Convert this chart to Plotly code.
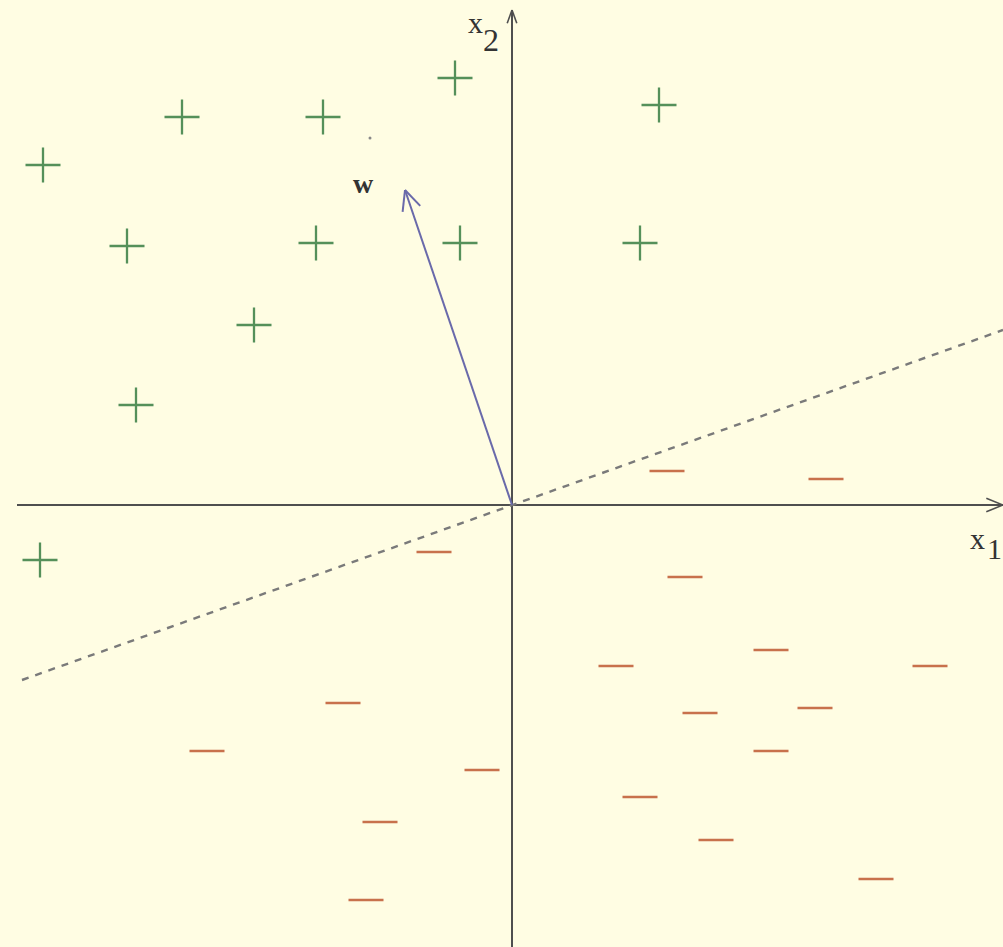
import math
import plotly.graph_objects as go

# Data (units: pixels relative to origin, y up)
plus_x = [-469, -330, -189, -57, 147, -385, -196, -52, 128, -258, -376, -472]
plus_y = [340, 388, 388, 427, 400, 259, 262, 262, 262, 180, 100, -55]

minus_x = [155, 314, -78, 173, 104, 259, 418, -169, 188, 303, -305, 259, -30, 128, -132, 204, 364, -146]
minus_y = [34, 26, -47, -72, -161, -145, -161, -198, -208, -203, -246, -246, -265, -292, -317, -335, -374, -395]

w_vec = [-107, 315]
boundary_x = [-490, 491]
boundary_y = [-175, 175]

x_range = [-512, 491]
y_range = [-442, 505]
h_axis = [-495, 491]
v_axis = [-442, 495]

BG = "#FFFDE3"
AXIS = "#4f4f4f"
GREEN = "#55905a"
ORANGE = "#c8714c"
BLUE = "#6a6aaa"
GRAY = "#7a7a7a"


def chevron(tip, direction, length, angle_deg):
    dx, dy = direction
    n = math.hypot(dx, dy)
    ux, uy = -dx / n, -dy / n
    xs, ys = [], []
    for s in (1, -1):
        a = math.radians(angle_deg) * s
        rx = ux * math.cos(a) - uy * math.sin(a)
        ry = ux * math.sin(a) + uy * math.cos(a)
        xs += [tip[0] + rx * length, tip[0], None]
        ys += [tip[1] + ry * length, tip[1], None]
    return xs, ys


fig = go.Figure()

# axes
fig.add_trace(go.Scatter(x=h_axis, y=[0, 0], mode="lines", line=dict(color=AXIS, width=2), hoverinfo="skip"))
fig.add_trace(go.Scatter(x=[0, 0], y=v_axis, mode="lines", line=dict(color=AXIS, width=2), hoverinfo="skip"))
hx, hy = chevron((h_axis[1], 0), (1, 0), 18, 22)
fig.add_trace(go.Scatter(x=hx, y=hy, mode="lines", line=dict(color=AXIS, width=1.6), hoverinfo="skip"))
vx, vy = chevron((0, v_axis[1]), (0, 1), 14, 20)
fig.add_trace(go.Scatter(x=vx, y=vy, mode="lines", line=dict(color=AXIS, width=1.6), hoverinfo="skip"))

# decision boundary
fig.add_trace(go.Scatter(x=boundary_x, y=boundary_y, mode="lines",
                         line=dict(color=GRAY, width=2.4, dash="7px,7px"), hoverinfo="skip"))

# w vector
fig.add_trace(go.Scatter(x=[0, w_vec[0]], y=[0, w_vec[1]], mode="lines",
                         line=dict(color=BLUE, width=2), hoverinfo="skip"))
wx, wy = chevron((w_vec[0], w_vec[1]), (w_vec[0], w_vec[1]), 22, 25)
fig.add_trace(go.Scatter(x=wx, y=wy, mode="lines", line=dict(color=BLUE, width=2), hoverinfo="skip"))

# points
fig.add_trace(go.Scatter(x=plus_x, y=plus_y, mode="markers",
                         marker=dict(symbol="cross-thin", size=25, line=dict(color=GREEN, width=2.3))))
fig.add_trace(go.Scatter(x=minus_x, y=minus_y, mode="markers",
                         marker=dict(symbol="line-ew", size=25, line=dict(color=ORANGE, width=2.5))))
fig.add_trace(go.Scatter(x=[-142], y=[367], mode="markers",
                         marker=dict(symbol="circle", size=3, color="#888888")))

serif = "Liberation Serif"
ann = [
    dict(x=-37, y=483, text="x", size=30),
    dict(x=-21, y=465, text="2", size=32),
    dict(x=465, y=-33, text="x", size=30),
    dict(x=482, y=-43, text="1", size=30),
    dict(x=-149, y=322, text="<b>w</b>", size=28),
]
for a in ann:
    fig.add_annotation(x=a["x"], y=a["y"], text=a["text"], showarrow=False,
                       font=dict(family=serif, size=a["size"], color="#333333"),
                       xanchor="center", yanchor="middle")

fig.update_layout(
    width=1003, height=947,
    margin=dict(l=0, r=0, t=0, b=0),
    paper_bgcolor=BG, plot_bgcolor=BG,
    showlegend=False,
    xaxis=dict(range=x_range, visible=False, fixedrange=True),
    yaxis=dict(range=y_range, visible=False, fixedrange=True),
)

fig.write_html("out.html",
               config={"displayModeBar": False},
               post_script="document.body.style.margin='0';document.body.style.background='" + BG + "';")
